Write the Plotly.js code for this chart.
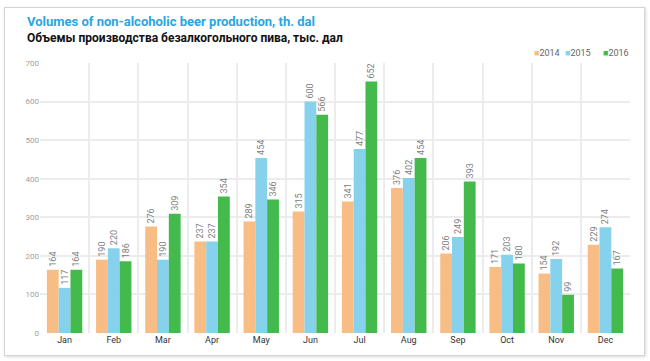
<!DOCTYPE html>
<html>
<head>
<meta charset="utf-8">
<script src="https://cdn.plot.ly/plotly-3.0.1.min.js"></script>
<style>
  html, body { margin: 0; padding: 0; background: #ffffff; }
  #frame { position: absolute; left: 4px; top: 7px; width: 639px; height: 347px;
           border: 1px solid #d4d4d4; box-shadow: 1px 1px 3px rgba(0,0,0,0.15); }
  #chart { position: absolute; left: 0; top: 0; width: 650px; height: 361px; }
</style>
</head>
<body>
<div id="frame"></div>
<div id="chart"></div>
<script>
const months = ['Jan','Feb','Mar','Apr','May','Jun','Jul','Aug','Sep','Oct','Nov','Dec'];
const seriesNames = ['2014','2015','2016'];
const v2014 = [164, 190, 276, 237, 289, 315, 341, 376, 206, 171, 154, 229];
const v2015 = [117, 220, 190, 237, 454, 600, 477, 402, 249, 203, 192, 274];
const v2016 = [164, 186, 309, 354, 346, 566, 652, 454, 393, 180,  99, 167];
const colors = ['#f8bd84', '#86d2ec', '#44b94c'];
const yTicks = [0, 100, 200, 300, 400, 500, 600, 700];
const titleEn = 'Volumes of non-alcoholic beer production, th. dal';
const titleRu = 'Объемы производства безалкогольного пива, тыс. дал';

const data = [v2014, v2015, v2016].map((vals, i) => ({
  type: 'bar',
  name: seriesNames[i],
  x: months,
  y: vals,
  marker: { color: colors[i] },
  text: vals.map(String),
  textposition: 'outside',
  textangle: -90,
  constraintext: 'none',
  cliponaxis: false,
  showlegend: false,
  textfont: { family: 'Roboto, sans-serif', size: 9, color: '#808080' },
  hoverinfo: 'x+y+name'
}));

// legend built as annotations (compact, like the original)
const legendX = [0.834, 0.886, 0.951];
const legendAnn = seriesNames.map((n, i) => ({
  xref: 'paper', yref: 'paper', x: legendX[i], y: 1.037,
  xanchor: 'left', yanchor: 'middle', showarrow: false,
  text: '<span style="color:' + colors[i] + '">■</span>' + n,
  font: { family: 'Roboto, sans-serif', size: 9, color: '#666666' }
}));

const layout = {
  width: 650, height: 361,
  margin: { l: 40, r: 20, t: 63, b: 28 },
  paper_bgcolor: 'rgba(0,0,0,0)',
  plot_bgcolor: 'rgba(0,0,0,0)',
  barmode: 'group',
  bargap: 0.28,
  bargroupgap: 0,
  font: { family: 'Roboto, sans-serif' },
  xaxis: {
    type: 'category',
    tickson: 'boundaries',
    showgrid: true,
    gridcolor: '#ececec',
    gridwidth: 2,
    ticks: '',
    showline: false,
    tickfont: { size: 9, color: '#333333' }
  },
  yaxis: {
    range: [0, 700],
    tickvals: yTicks,
    showgrid: true,
    gridcolor: '#ececec',
    gridwidth: 2,
    zeroline: false,
    ticks: '',
    tickfont: { size: 8, color: '#a0a0a0' }
  },
  showlegend: false,
  annotations: [
    { xref: 'paper', yref: 'paper', x: -0.026, y: 1.152, xanchor: 'left', yanchor: 'middle',
      text: '<b>' + titleEn + '</b>', showarrow: false,
      font: { family: 'Roboto, sans-serif', size: 13, color: '#2aa5df' } },
    { xref: 'paper', yref: 'paper', x: -0.026, y: 1.093, xanchor: 'left', yanchor: 'middle',
      text: '<b>' + titleRu + '</b>', showarrow: false,
      font: { family: 'Roboto, sans-serif', size: 12, color: '#111111' } }
  ].concat(legendAnn)
};

Plotly.newPlot('chart', data, layout, { displayModeBar: false, staticPlot: true });
</script>
</body>
</html>
